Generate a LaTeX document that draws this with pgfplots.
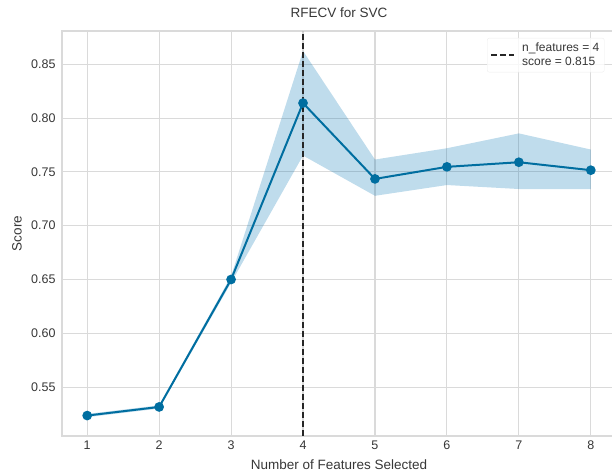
\documentclass[border=0pt]{standalone}
\usepackage{pgfplots}
\pgfplotsset{compat=1.18}
\usepgfplotslibrary{fillbetween}
\usepackage{fontspec}
\setmainfont{Liberation Sans}
\definecolor{sbblue}{RGB}{0,110,160}
\definecolor{sbband}{RGB}{0,114,178}
\definecolor{gridgray}{RGB}{218,218,218}
\definecolor{txtgray}{RGB}{55,55,55}
\pgfplotsset{longlegline/.style={legend image code/.code={\draw[##1] (0pt,0pt) -- (23pt,0pt); \path (28pt,0pt);}}}
\pgfplotstableread{
x  y      lo     hi
1  0.5235 0.5220 0.5250
2  0.5315 0.5300 0.5330
3  0.6500 0.6470 0.6530
4  0.8140 0.7652 0.8624
5  0.7435 0.7278 0.7615
6  0.7547 0.7378 0.7720
7  0.7590 0.7341 0.7858
8  0.7516 0.7341 0.7708
}\data
\begin{document}
\begin{tikzpicture}
\begin{axis}[
  at={(0,0)}, anchor=south west,
  scale only axis, width=554pt, height=405pt,
  xmin=0.65, xmax=8.35, ymin=0.5045, ymax=0.881,
  xtick={1,...,8},
  ytick={0.55,0.60,0.65,0.70,0.75,0.80,0.85},
  yticklabel style={/pgf/number format/fixed, /pgf/number format/fixed zerofill, /pgf/number format/precision=2, xshift=-3pt},
  /pgf/number format/assume math mode=true,
  major tick length=0pt,
  grid=major,
  major grid style={draw=gridgray, line width=1.1pt},
  axis line style={draw=gridgray, line width=1.1pt},
  ticklabel style={font=\fontsize{12.5}{14}\selectfont, text=txtgray},
  xticklabel style={yshift=-1pt},
  title={RFECV for SVC},
  title style={font=\fontsize{13.5}{15}\selectfont, text=txtgray, at={(axis description cs:0.5,1)}, anchor=center, yshift=12pt},
  xlabel={Number of Features Selected},
  ylabel={Score},
  every axis x label/.style={at={(axis description cs:0.5,0)}, anchor=center, yshift=-29pt, font=\fontsize{13.5}{15}\selectfont, text=txtgray},
  every axis y label/.style={at={(axis description cs:-0.0812,0.5)}, anchor=center, rotate=90, font=\fontsize{13.5}{15}\selectfont, text=txtgray},
  legend style={at={(axis cs:8.19,0.8745)}, anchor=north east, draw=gridgray!50, rounded corners=2pt, fill=white, fill opacity=0.8, text opacity=1, font=\fontsize{12}{11.5}\selectfont, text=txtgray, inner sep=3pt},
  legend cell align=left,
]
\addplot[draw=none, name path=hi, forget plot] table[x=x, y=hi] {\data};
\addplot[draw=none, name path=lo, forget plot] table[x=x, y=lo] {\data};
\addplot[fill=sbband, fill opacity=0.25, draw=none, forget plot] fill between[of=hi and lo];
\addplot[color=sbblue, line width=2pt, mark=*, mark size=3.8pt, mark options={fill=sbblue, draw=sbblue}, forget plot] table[x=x, y=y] {\data};
\addplot[color=black!85, line width=2pt, dash pattern=on 6pt off 3pt, longlegline] coordinates {(4,0.5045) (4,0.881)};
\addlegendentry{\shortstack[l]{n\_features = 4\\score = 0.815}}
\end{axis}
\pgfresetboundingbox
\useasboundingbox (-62pt,-37pt) rectangle (550pt,436pt);
\end{tikzpicture}
\end{document}
